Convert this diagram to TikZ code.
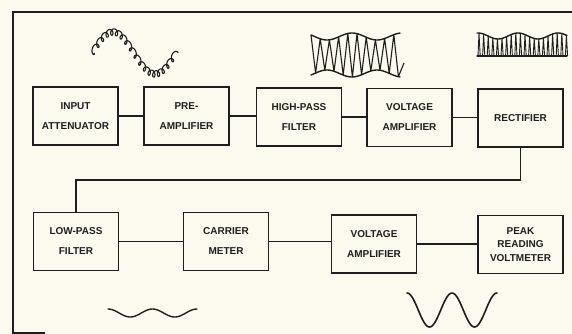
\documentclass[tikz,border=0pt]{standalone}
\usepackage{fontspec}
\setmainfont{Liberation Sans}
\definecolor{paper}{RGB}{252,250,238}
\definecolor{ink}{RGB}{30,30,30}
\begin{document}
\begin{tikzpicture}[x=1pt,y=-1pt,
  box/.style={draw=ink,line width=1.9pt,minimum width=85pt,minimum height=58pt,inner sep=0pt,align=center,
    font=\fontsize{10}{20}\selectfont\bfseries,text=ink},
  tbox/.style={box,font=\fontsize{10}{13.5}\selectfont\bfseries},
  wire/.style={draw=ink,line width=1.9pt},
  wave/.style={draw=ink,line width=1.4pt,line join=round,line cap=round},
  thin/.style={draw=ink,line width=0.9pt,line join=round}]
\fill[paper] (0,0) rectangle (572,334);
\useasboundingbox (0,0) rectangle (572,334);
% frame
\draw[wire] (572,12) -- (13,12) -- (13,333) -- (45,333);
% row 1
\node[box] (ia) at (75.5,116) {INPUT\\ATTENUATOR};
\node[box] (pre) at (186.5,116) {PRE-\\AMPLIFIER};
\node[box] (hp) at (299,117) {HIGH-PASS\\FILTER};
\node[box] (va1) at (409.5,117.5) {VOLTAGE\\AMPLIFIER};
\node[box] (rect) at (520.5,118) {RECTIFIER};
% row 2
\node[box] (lp) at (76,241.5) {LOW-PASS\\FILTER};
\node[box] (cm) at (226,241.5) {CARRIER\\METER};
\node[box] (va2) at (374,244) {VOLTAGE\\AMPLIFIER};
\node[tbox] (pk) at (520.5,244.5) {PEAK\\READING\\VOLTMETER};
\coordinate (mid) at (300,180);
% connectors
\draw[wire] (ia.east) -- (ia.east -| pre.west);
\draw[wire] (pre.east) -- (pre.east -| hp.west);
\draw[wire] (hp.east) -- (hp.east -| va1.west);
\draw[wire] (va1.east) -- (va1.east -| rect.west);
\draw[wire] (rect.south) |- (mid) -| (lp.north);
\draw[wire] (lp.east) -- (lp.east -| cm.west);
\draw[wire] (cm.east) -- (cm.east -| va2.west);
\draw[wire] (va2.east) -- (va2.east -| pk.west);
% wave 1: sine with HF loops
\draw[thin,line width=1.1pt] plot[domain=0:1,samples=600,smooth]
  ({92+84*\x+2.2*cos(6480*\x)},{53-21*sin(360*\x)+3.2*sin(6480*\x)});
% wave 2: AM carrier
\draw[wave] plot[domain=311:400,samples=60,smooth] (\x,{55-(18.5+3.5*cos((\x-352)*7.2))});
\draw[wave] plot[domain=311:400,samples=60,smooth] (\x,{55+(18.5+3.5*cos((\x-352)*7.2))});
\draw[thin,line width=1.1pt] plot[domain=0:19,samples=20] ({311+4.6*\x},{55-cos(180*\x)*(18.5+3.5*cos((311+4.6*\x-352)*7.2))}) -- (404,63);
% wave 3: rectified
\draw[wave,line width=1.1pt] (477,56) -- (567,56);
\draw[wave] plot[domain=477:567,samples=60,smooth] (\x,{36-3*cos((\x-518)*9)});
\foreach \k in {0,...,19}{
  \pgfmathsetmacro{\xa}{478+4.6*\k}
  \pgfmathsetmacro{\ya}{36-3*cos((\xa+1-518)*9)}
  \draw[thin] (\xa,56) -- (\xa+1,\ya) -- (\xa+2.2,56);
}
% wave 4: low-pass output
\draw[wave] plot[domain=108:197,samples=60,smooth] (\x,{313-4*cos((\x-108)*8.09)});
% wave 5: amplified
\draw[wave,line width=1.6pt] plot[domain=407:497,samples=80,smooth] (\x,{310-17*cos((\x-407)*8)});
\end{tikzpicture}
\end{document}
